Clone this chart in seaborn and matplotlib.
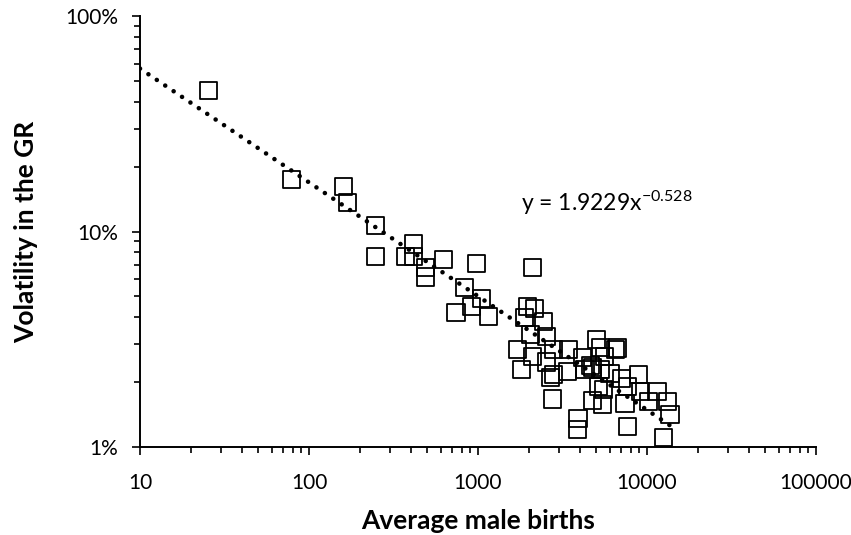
import numpy as np
import pandas as pd
import matplotlib
matplotlib.use("Agg")
import matplotlib.pyplot as plt
from matplotlib.ticker import LogLocator, NullFormatter, FixedLocator, FixedFormatter
import seaborn as sns

# ---- data ----
avg_male_births = [
    25.6, 79.3, 159, 170, 246, 246, 418, 370, 418, 492, 492,
    621, 986, 2090, 837, 921, 741, 1042, 1161, 1950, 2173, 1897,
    2427, 2032, 2559, 1702, 2114, 2780, 3454, 1820, 2559, 2780,
    3367, 4180, 5058, 5272, 4603, 5272, 6472, 6040, 6730, 5636,
    4297, 4790, 7112, 8850, 7620, 5130, 5500, 4790, 5420, 7410,
    9100, 11460, 10140, 13300, 13680, 7620, 12450, 3906, 3855,
    2742, 2668,
]
volatility_pct = [
    44.9, 17.5, 16.1, 13.7, 10.7, 7.62, 8.75, 7.62, 7.62, 6.84, 6.15,
    7.38, 7.14, 6.84, 5.47, 4.51, 4.23, 4.91, 4.05, 4.51, 4.37, 3.97,
    3.84, 3.31, 3.24, 2.82, 2.62, 2.82, 2.82, 2.28, 2.48, 2.16,
    2.23, 2.59, 3.14, 2.91, 2.40, 2.28, 2.82, 2.20, 2.88, 2.62,
    2.28, 2.33, 2.09, 2.16, 1.90, 1.90, 1.84, 1.65, 1.57, 1.60,
    1.80, 1.80, 1.62, 1.62, 1.41, 1.25, 1.11, 1.36, 1.20,
    1.67, 2.11,
]
trend_coef = 1.9229
trend_exp = -0.528
trend_x_range = [10, 13680]
x_ticks = [10, 100, 1000, 10000, 100000]
x_tick_labels = ["10", "100", "1000", "10000", "100000"]
y_ticks = [0.01, 0.1, 1.0]
y_tick_labels = ["1%", "10%", "100%"]

df = pd.DataFrame({"births": avg_male_births,
                   "vol": np.array(volatility_pct) / 100.0})

sns.set_theme(style="ticks")
plt.rcParams["font.family"] = ["Lato", "DejaVu Sans"]
plt.rcParams["mathtext.default"] = "regular"

fig = plt.figure(figsize=(8.51, 5.35), dpi=100)
ax = fig.add_axes([140 / 851, 88 / 535, 676 / 851, 431 / 535])

# trendline (dotted)
tx = np.geomspace(trend_x_range[0], trend_x_range[1], 400)
ty = trend_coef * tx ** trend_exp
ax.plot(tx, ty, color="black", linewidth=3.3,
        linestyle=(0, (0.01, 2.2)), dash_capstyle="round", zorder=3)

sns.scatterplot(data=df, x="births", y="vol", ax=ax, marker="s", s=150,
                facecolor="none", edgecolor="black", linewidth=1.3,
                zorder=2, legend=False)

ax.set_xscale("log")
ax.set_yscale("log")
ax.set_xlim(10, 100000)
ax.set_ylim(0.01, 1.0)

ax.xaxis.set_major_locator(FixedLocator(x_ticks))
ax.xaxis.set_major_formatter(FixedFormatter(x_tick_labels))
ax.xaxis.set_minor_locator(LogLocator(base=10, subs=np.arange(2, 10)))
ax.xaxis.set_minor_formatter(NullFormatter())
ax.yaxis.set_major_locator(FixedLocator(y_ticks))
ax.yaxis.set_major_formatter(FixedFormatter(y_tick_labels))
ax.yaxis.set_minor_locator(LogLocator(base=10, subs=np.arange(2, 10)))
ax.yaxis.set_minor_formatter(NullFormatter())

ax.tick_params(axis="both", which="major", direction="out", length=6,
               width=1.2, color="black", labelsize=15, labelcolor="black")
ax.tick_params(axis="x", which="major", pad=13)
ax.tick_params(axis="y", which="major", pad=10)
ax.tick_params(axis="both", which="minor", direction="out", length=4.5,
               width=1.2, color="black")

for side in ["top", "right"]:
    ax.spines[side].set_visible(False)
for side in ["left", "bottom"]:
    ax.spines[side].set_color("black")
    ax.spines[side].set_linewidth(1.4)

ax.set_xlabel("Average male births", fontsize=19, fontweight="bold",
              color="black")
ax.set_ylabel("Volatility in the GR", fontsize=19, fontweight="bold",
              color="black")
ax.xaxis.label.set_va("center")
ax.yaxis.label.set_va("center")
ax.xaxis.set_label_coords((478 - 140) / 676, (447 - 521) / 431)
ax.yaxis.set_label_coords((26 - 140) / 676, (447 - 232) / 431)

ax.text(0.564, 0.566, "y = 1.9229x$^{-0.528}$", transform=ax.transAxes,
        fontsize=16.5, color="black", ha="left", va="center")

fig.savefig("out.png", dpi=100)
